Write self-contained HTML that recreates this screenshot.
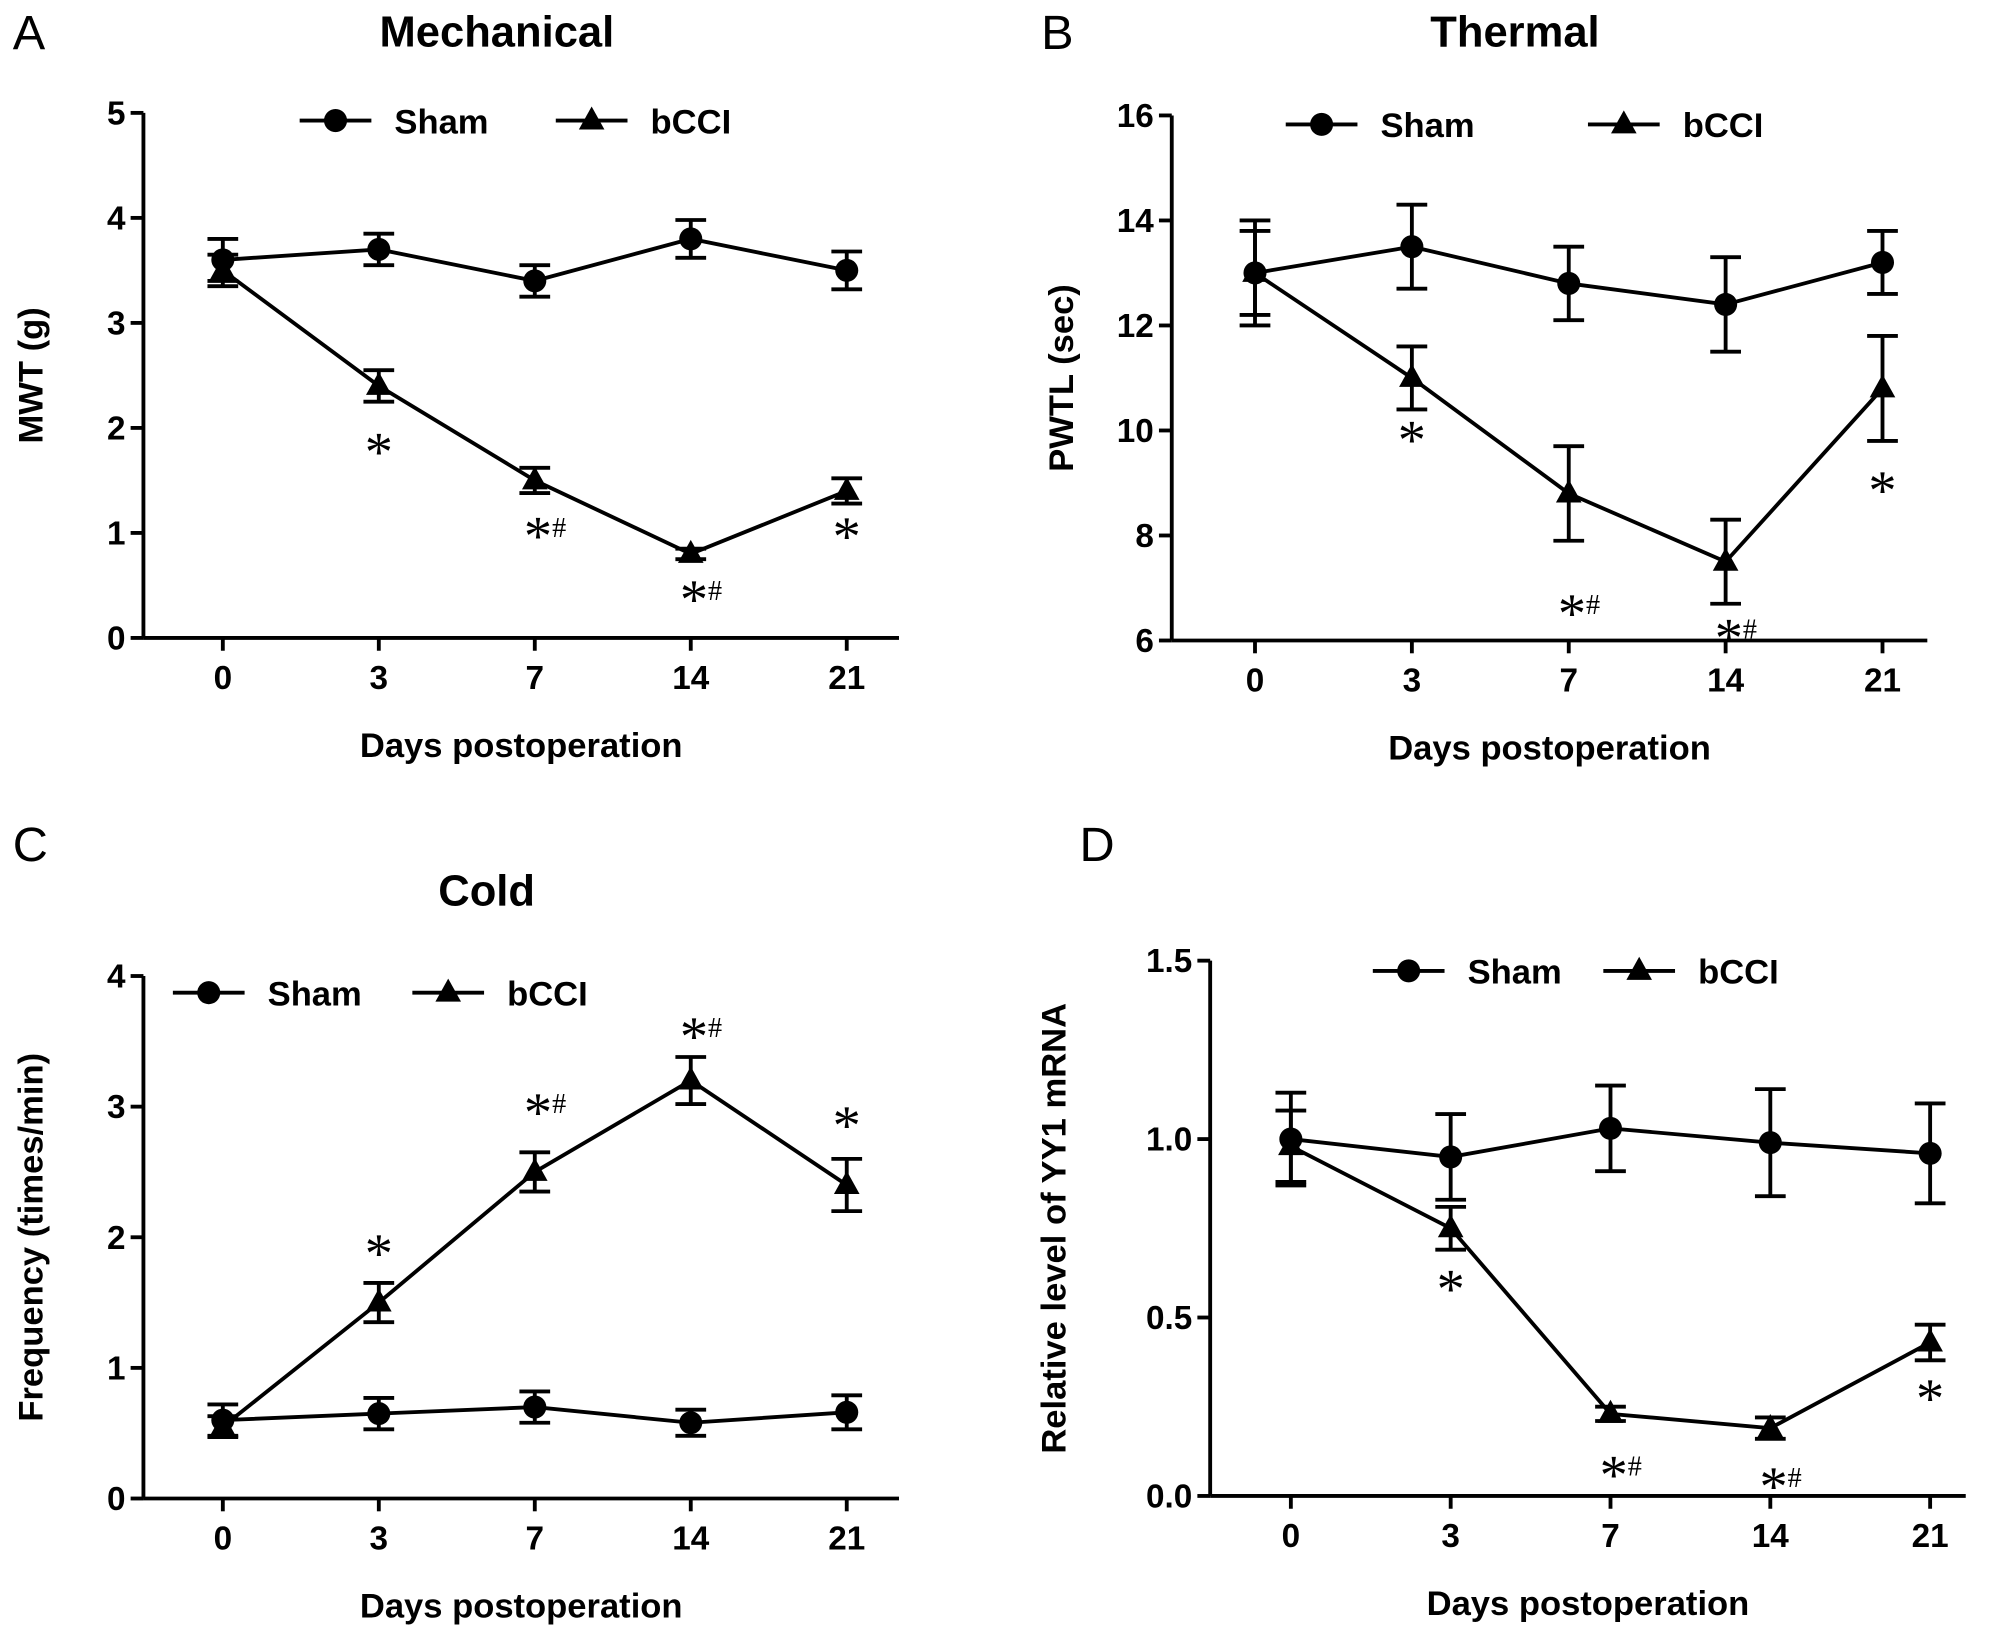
<!DOCTYPE html>
<html><head><meta charset="utf-8"><style>
html,body{margin:0;padding:0;background:#fff;}
svg{display:block;font-family:"Liberation Sans",Arial,sans-serif;font-weight:bold;}
</style></head><body>
<svg id="fig" width="2008" height="1637" viewBox="0 0 1568 1278" xmlns="http://www.w3.org/2000/svg"></svg>
<script>
const days = ["0","3","7","14","21"];
const mechSham = [3.6,3.7,3.4,3.8,3.5];
const mechShamErr = [0.2,0.15,0.15,0.18,0.18];
const mechBcci = [3.5,2.4,1.5,0.8,1.4];
const mechBcciErr = [0.15,0.15,0.12,0.05,0.12];
const mechTicks = [0,1,2,3,4,5];
const mechAnn = ["","*","*#","*#","*"];
const thSham = [13,13.5,12.8,12.4,13.2];
const thShamErr = [1,0.8,0.7,0.9,0.6];
const thBcci = [13,11,8.8,7.5,10.8];
const thBcciErr = [0.8,0.6,0.9,0.8,1.0];
const thTicks = [6,8,10,12,14,16];
const thAnn = ["","*","*#","*#","*"];
const coSham = [0.6,0.65,0.7,0.58,0.66];
const coShamErr = [0.12,0.12,0.12,0.1,0.13];
const coBcci = [0.55,1.5,2.5,3.2,2.4];
const coBcciErr = [0.08,0.15,0.15,0.18,0.2];
const coTicks = [0,1,2,3,4];
const coAnn = ["","*","*#","*#","*"];
const yySham = [1.0,0.95,1.03,0.99,0.96];
const yyShamErr = [0.13,0.12,0.12,0.15,0.14];
const yyBcci = [0.98,0.75,0.23,0.19,0.43];
const yyBcciErr = [0.1,0.06,0.02,0.03,0.05];
const yyTicks = ["0.0","0.5","1.0","1.5"];
const yyAnn = ["","*","*#","*#","*"];

const NS="http://www.w3.org/2000/svg";
const svg=document.getElementById('fig');
function mk(tag,attrs,parent,text){const e=document.createElementNS(NS,tag);for(const k in attrs)e.setAttribute(k,attrs[k]);if(text!==undefined)e.textContent=text;(parent||svg).appendChild(e);return e;}

function panel(cfg){
  const g=mk('g',{});
  
  
  const ymin=parseFloat(cfg.ticks[0]), ymax=parseFloat(cfg.ticks[cfg.ticks.length-1]);
  const ys=v=>cfg.y0+(v-ymin)/(ymax-ymin)*(cfg.y1-cfg.y0);
  const xs=i=>cfg.xFirst+i*cfg.xStep;
  const L=mk('text',{x:cfg.ax-102,y:cfg.letterY,'font-size':38,'font-weight':'normal'},g,cfg.letter);
  
  if(cfg.title){const T=mk('text',{x:cfg.titleX,y:cfg.titleY,'font-size':34,'text-anchor':'middle'},g,cfg.title);
  }
  const ya=mk('line',{x1:cfg.ax,y1:cfg.y1,x2:cfg.ax,y2:cfg.y0,stroke:'#000','stroke-width':3},g);
  
  const xa=mk('line',{x1:cfg.ax,y1:cfg.y0,x2:cfg.axEnd,y2:cfg.y0,stroke:'#000','stroke-width':3},g);
  
  cfg.ticks.forEach(t=>{const y=ys(parseFloat(t));
    mk('line',{x1:cfg.ax-10,y1:y,x2:cfg.ax,y2:y,stroke:'#000','stroke-width':3},g);
    const tl=mk('text',{x:cfg.ax-14,y:y+9,'font-size':26,'text-anchor':'end'},g,String(t));
    });
  days.forEach((d,i)=>{const x=xs(i);
    mk('line',{x1:x,y1:cfg.y0,x2:x,y2:cfg.y0+10,stroke:'#000','stroke-width':3},g);
    const tl=mk('text',{x:x,y:cfg.y0+40,'font-size':26,'text-anchor':'middle'},g,d);
    });
  const xl=mk('text',{x:(cfg.ax+cfg.axEnd)/2,y:cfg.y0+93,'font-size':27,'text-anchor':'middle'},g,'Days postoperation');
  
  const yc=(cfg.y0+cfg.y1)/2;
  const yl=mk('text',{x:cfg.ylX,y:yc,'font-size':27,'text-anchor':'middle',transform:`rotate(-90 ${cfg.ylX} ${yc})`},g,cfg.ylabel);
  
  function series(vals,errs,shape,name){
    const sg=mk('g',{},g);
    
    mk('polyline',{points:vals.map((v,i)=>xs(i)+','+ys(v)).join(' '),fill:'none',stroke:'#000','stroke-width':3},sg);
    vals.forEach((v,i)=>{const x=xs(i),y=ys(v),t=ys(v+errs[i]),b=ys(v-errs[i]);
      mk('path',{d:`M${x},${t}V${b}M${x-12},${t}H${x+12}M${x-12},${b}H${x+12}`,stroke:'#000','stroke-width':3,fill:'none'},sg);
      marker(sg,shape,x,y);});
  }
  series(cfg.sham,cfg.shamErr,'c','sham-series');
  series(cfg.bcci,cfg.bcciErr,'t','bcci-series');
  cfg.ann.forEach((a,i)=>{if(!a)return;
    const y=ys(cfg.bcci[i])+cfg.annDir*(cfg.annOff[i]);
    const at=mk('text',{x:xs(i)+(a.length>1?8:0),y:y+8,'font-size':44,'font-weight':'normal','font-family':'"Liberation Serif",serif','text-anchor':'middle'},g);
    
    mk('tspan',{},at,'*');
    if(a.length>1){mk('tspan',{'font-size':22,dy:-14},at,'#');}
  });
  [[cfg.legX1,'c','Sham'],[cfg.legX2,'t','bCCI']].forEach(([lx,sh,lab])=>{
    const lg=mk('g',{},g);
    
    mk('line',{x1:lx-28,y1:cfg.legY,x2:lx+28,y2:cfg.legY,stroke:'#000','stroke-width':3},lg);
    marker(lg,sh,lx,cfg.legY);
    mk('text',{x:lx+46,y:cfg.legY+10,'font-size':27},lg,lab);
  });
}
function marker(p,shape,x,y){
  if(shape==='c')mk('circle',{cx:x,cy:y,r:9,fill:'#000'},p);
  else mk('polygon',{points:`${x},${y-11} ${x+10},${y+7} ${x-10},${y+7}`,fill:'#000'},p);
}
panel({name:'panel-a-mechanical',letter:'A',title:'Mechanical',titleX:388,titleY:36,letterY:38,ax:112,axEnd:702,y0:498,y1:88,xFirst:174,xStep:121.8,ticks:mechTicks,
  sham:mechSham,shamErr:mechShamErr,bcci:mechBcci,bcciErr:mechBcciErr,ann:mechAnn,annDir:1,annOff:[0,58,50,42,42],
  ylabel:'MWT (g)',ylX:33,legX1:262,legX2:462,legY:94});
panel({name:'panel-b-thermal',letter:'B',title:'Thermal',titleX:1183,titleY:36,letterY:38,ax:915,axEnd:1505,y0:500,y1:90,xFirst:980,xStep:122.5,ticks:thTicks,
  sham:thSham,shamErr:thShamErr,bcci:thBcci,bcciErr:thBcciErr,ann:thAnn,annDir:1,annOff:[0,55,100,66,86],
  ylabel:'PWTL (sec)',ylX:838,legX1:1032,legX2:1268,legY:97});
panel({name:'panel-c-cold',letter:'C',title:'Cold',titleX:380,titleY:707,letterY:672,ax:112,axEnd:702,y0:1170,y1:762,xFirst:174,xStep:121.8,ticks:coTicks,
  sham:coSham,shamErr:coShamErr,bcci:coBcci,bcciErr:coBcciErr,ann:coAnn,annDir:-1,annOff:[0,32,40,28,40],
  ylabel:'Frequency (times/min)',ylX:33,legX1:163,legX2:350,legY:775});
panel({name:'panel-d-yy1',letter:'D',title:'',titleX:0,titleY:0,letterY:672,ax:945,axEnd:1535,y0:1168,y1:750,xFirst:1008,xStep:124.8,ticks:yyTicks,
  sham:yySham,shamErr:yyShamErr,bcci:yyBcci,bcciErr:yyBcciErr,ann:yyAnn,annDir:1,annOff:[0,54,54,52,50],
  ylabel:'Relative level of YY1 mRNA',ylX:832,legX1:1100,legX2:1280,legY:758});
</script>
</body></html>
